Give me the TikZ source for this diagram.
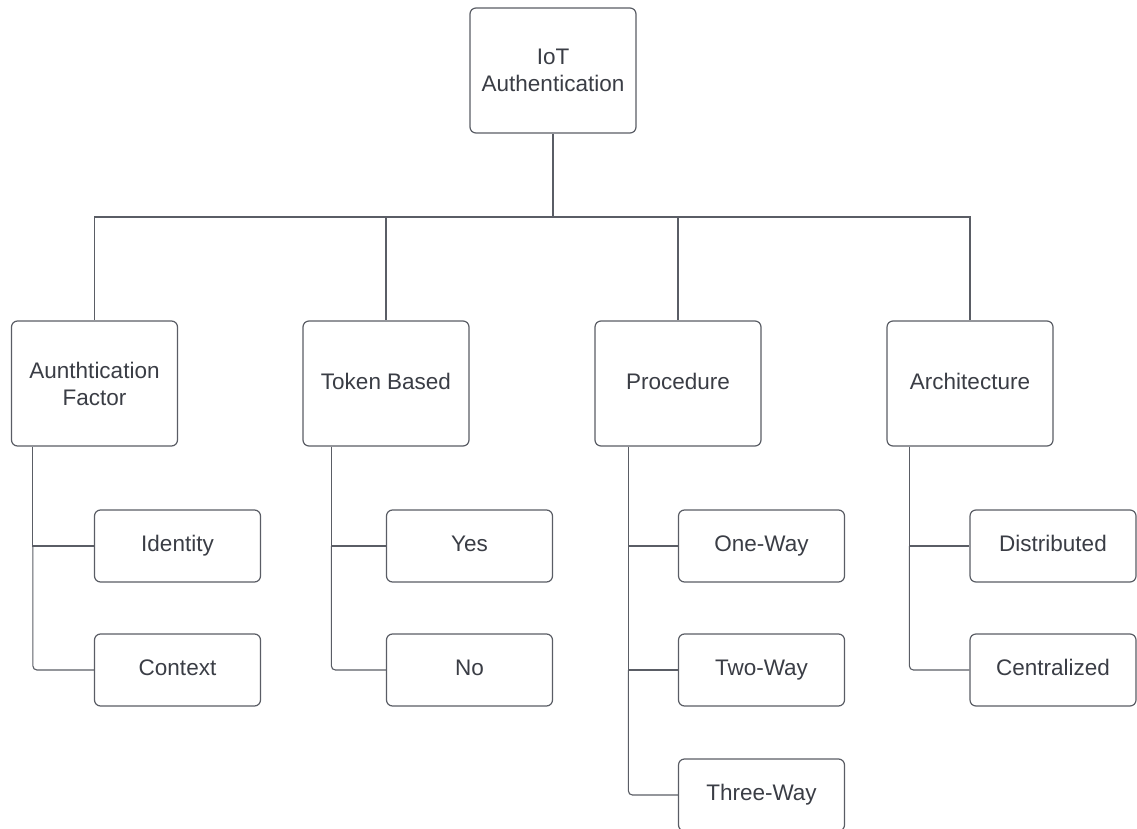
\documentclass[tikz,border=0pt]{standalone}
\usepackage{fontspec}
\setmainfont{Liberation Sans}
\definecolor{txt}{HTML}{3A3D45}
\definecolor{ln}{HTML}{5A5D65}
\begin{document}
\begin{tikzpicture}[x=1pt,y=-1pt,
  box/.style={draw=ln,line width=1.2pt,rounded corners=6pt,fill=white,text=txt,
    font=\fontsize{22.5}{27}\selectfont,align=center,inner sep=0pt},
  big/.style={box,minimum width=166pt,minimum height=125pt},
  one/.style={text height=16pt,text depth=5pt},
  small/.style={box,one,minimum width=166pt,minimum height=72pt},
  conn/.style={draw=ln,line width=1.1pt}]
\useasboundingbox (0,0) rectangle (1137,829);
\begin{scope}
\clip (0,0) rectangle (1137,829);
\node[big] (root) at (553,70.5) {IoT\\Authentication};
\node[big] (a) at (94.5,383.5) {Aunthtication\\Factor};
\node[big,one] (b) at (386,383.5) {Token Based};
\node[big,one] (c) at (678,383.5) {Procedure};
\node[big,one] (d) at (970,383.5) {Architecture};
\node[small] (a1) at (177.5,546) {Identity};
\node[small] (a2) at (177.5,670) {Context};
\node[small] (b1) at (469.5,546) {Yes};
\node[small] (b2) at (469.5,670) {No};
\node[small] (c1) at (761.5,546) {One-Way};
\node[small] (c2) at (761.5,670) {Two-Way};
\node[small] (c3) at (761.5,795) {Three-Way};
\node[small] (d1) at (1053,546) {Distributed};
\node[small] (d2) at (1053,670) {Centralized};
\coordinate (bus) at (553,217);
\draw[conn] (root.south) -- (bus);
\foreach \n in {a,b,c,d}{
  \draw[conn] (bus) -| (\n.north);
}
\draw[conn] (a.south west) ++(22,0) coordinate (at) (at) -- (at |- a1.west) -- (a1.west);
\draw[conn,rounded corners=4pt] (at |- a1.west) -- (at |- a2.west) -- (a2.west);
\draw[conn] (b.south west) ++(29,0) coordinate (bt) (bt) -- (bt |- b1.west) -- (b1.west);
\draw[conn,rounded corners=4pt] (bt |- b1.west) -- (bt |- b2.west) -- (b2.west);
\draw[conn] (c.south west) ++(34,0) coordinate (ct) (ct) -- (ct |- c1.west) -- (c1.west);
\draw[conn] (ct |- c1.west) -- (ct |- c2.west) -- (c2.west);
\draw[conn,rounded corners=4pt] (ct |- c2.west) -- (ct |- c3.west) -- (c3.west);
\draw[conn] (d.south west) ++(23,0) coordinate (dt) (dt) -- (dt |- d1.west) -- (d1.west);
\draw[conn,rounded corners=4pt] (dt |- d1.west) -- (dt |- d2.west) -- (d2.west);
\end{scope}
\end{tikzpicture}
\end{document}
